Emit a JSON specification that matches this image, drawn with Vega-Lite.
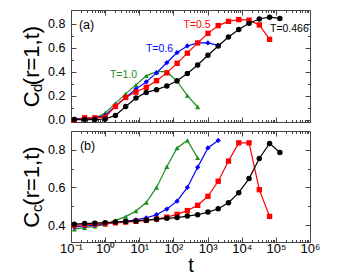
{
  "$schema": "https://vega.github.io/schema/vega-lite/v6.json",
  "padding": {"left": 20, "top": 9, "right": 5, "bottom": 2},
  "spacing": 3,
  "config": {
    "font": "Liberation Sans",
    "view": {"stroke": "#444", "strokeWidth": 1},
    "axis": {"domain": false, "grid": false, "tickColor": "#444", "labelFontSize": 12.5, "labelColor": "#000", "titleFontWeight": "normal", "titleColor": "#000", "labelFlush": false, "labelOverlap": false, "labelBound": false}
  },
  "datasets": {
    "cd": [
      {"T":"1.0","t":0.125,"v":0.005},{"T":"1.0","t":0.25,"v":0.01},{"T":"1.0","t":0.5,"v":0.01},{"T":"1.0","t":1,"v":0.055},{"T":"1.0","t":2,"v":0.135},{"T":"1.0","t":4,"v":0.215},{"T":"1.0","t":8,"v":0.29},{"T":"1.0","t":16,"v":0.365},{"T":"1.0","t":32,"v":0.4},{"T":"1.0","t":64,"v":0.4},{"T":"1.0","t":128,"v":0.32},{"T":"1.0","t":256,"v":0.2},{"T":"1.0","t":512,"v":0.105},
      {"T":"0.6","t":0.125,"v":0.005},{"T":"0.6","t":0.25,"v":0.012},{"T":"0.6","t":0.5,"v":0.012},{"T":"0.6","t":1,"v":0.035},{"T":"0.6","t":2,"v":0.115},{"T":"0.6","t":4,"v":0.185},{"T":"0.6","t":8,"v":0.255},{"T":"0.6","t":16,"v":0.315},{"T":"0.6","t":32,"v":0.39},{"T":"0.6","t":64,"v":0.475},{"T":"0.6","t":128,"v":0.56},{"T":"0.6","t":256,"v":0.615},{"T":"0.6","t":512,"v":0.64},{"T":"0.6","t":1024,"v":0.64},{"T":"0.6","t":2048,"v":0.62},
      {"T":"0.5","t":0.125,"v":-0.005},{"T":"0.5","t":0.25,"v":0.015},{"T":"0.5","t":0.5,"v":0.015},{"T":"0.5","t":1,"v":0.02},{"T":"0.5","t":2,"v":0.11},{"T":"0.5","t":4,"v":0.185},{"T":"0.5","t":8,"v":0.23},{"T":"0.5","t":16,"v":0.27},{"T":"0.5","t":32,"v":0.325},{"T":"0.5","t":64,"v":0.39},{"T":"0.5","t":128,"v":0.47},{"T":"0.5","t":256,"v":0.555},{"T":"0.5","t":512,"v":0.64},{"T":"0.5","t":1024,"v":0.72},{"T":"0.5","t":2048,"v":0.785},{"T":"0.5","t":4096,"v":0.82},{"T":"0.5","t":8192,"v":0.835},{"T":"0.5","t":16384,"v":0.83},{"T":"0.5","t":32768,"v":0.79},{"T":"0.5","t":65536,"v":0.67},
      {"T":"0.466","t":0.125,"v":0.0},{"T":"0.466","t":0.25,"v":0.0},{"T":"0.466","t":0.5,"v":0.0},{"T":"0.466","t":1,"v":0.005},{"T":"0.466","t":2,"v":0.035},{"T":"0.466","t":4,"v":0.11},{"T":"0.466","t":8,"v":0.18},{"T":"0.466","t":16,"v":0.227},{"T":"0.466","t":32,"v":0.25},{"T":"0.466","t":64,"v":0.28},{"T":"0.466","t":128,"v":0.324},{"T":"0.466","t":256,"v":0.385},{"T":"0.466","t":512,"v":0.456},{"T":"0.466","t":1024,"v":0.537},{"T":"0.466","t":2048,"v":0.614},{"T":"0.466","t":4096,"v":0.69},{"T":"0.466","t":8192,"v":0.753},{"T":"0.466","t":16384,"v":0.805},{"T":"0.466","t":32768,"v":0.84},{"T":"0.466","t":65536,"v":0.855},{"T":"0.466","t":131072,"v":0.845}
    ],
    "cc": [
      {"T":"1.0","t":0.125,"v":0.378},{"T":"1.0","t":0.25,"v":0.386},{"T":"1.0","t":0.5,"v":0.393},{"T":"1.0","t":1,"v":0.403},{"T":"1.0","t":2,"v":0.425},{"T":"1.0","t":4,"v":0.445},{"T":"1.0","t":8,"v":0.475},{"T":"1.0","t":16,"v":0.52},{"T":"1.0","t":32,"v":0.6},{"T":"1.0","t":64,"v":0.71},{"T":"1.0","t":128,"v":0.81},{"T":"1.0","t":256,"v":0.85},{"T":"1.0","t":512,"v":0.757},
      {"T":"0.6","t":0.125,"v":0.39},{"T":"0.6","t":0.25,"v":0.395},{"T":"0.6","t":0.5,"v":0.4},{"T":"0.6","t":1,"v":0.405},{"T":"0.6","t":2,"v":0.413},{"T":"0.6","t":4,"v":0.42},{"T":"0.6","t":8,"v":0.428},{"T":"0.6","t":16,"v":0.438},{"T":"0.6","t":32,"v":0.455},{"T":"0.6","t":64,"v":0.485},{"T":"0.6","t":128,"v":0.527},{"T":"0.6","t":256,"v":0.6},{"T":"0.6","t":512,"v":0.707},{"T":"0.6","t":1024,"v":0.81},{"T":"0.6","t":2048,"v":0.85},
      {"T":"0.5","t":0.125,"v":0.398},{"T":"0.5","t":0.25,"v":0.402},{"T":"0.5","t":0.5,"v":0.405},{"T":"0.5","t":1,"v":0.408},{"T":"0.5","t":2,"v":0.412},{"T":"0.5","t":4,"v":0.416},{"T":"0.5","t":8,"v":0.42},{"T":"0.5","t":16,"v":0.425},{"T":"0.5","t":32,"v":0.432},{"T":"0.5","t":64,"v":0.442},{"T":"0.5","t":128,"v":0.457},{"T":"0.5","t":256,"v":0.477},{"T":"0.5","t":512,"v":0.505},{"T":"0.5","t":1024,"v":0.553},{"T":"0.5","t":2048,"v":0.633},{"T":"0.5","t":4096,"v":0.74},{"T":"0.5","t":8192,"v":0.837},{"T":"0.5","t":16384,"v":0.837},{"T":"0.5","t":32768,"v":0.588},{"T":"0.5","t":65536,"v":0.446},
      {"T":"0.466","t":0.125,"v":0.405},{"T":"0.466","t":0.25,"v":0.408},{"T":"0.466","t":0.5,"v":0.41},{"T":"0.466","t":1,"v":0.413},{"T":"0.466","t":2,"v":0.416},{"T":"0.466","t":4,"v":0.419},{"T":"0.466","t":8,"v":0.422},{"T":"0.466","t":16,"v":0.426},{"T":"0.466","t":32,"v":0.432},{"T":"0.466","t":64,"v":0.436},{"T":"0.466","t":128,"v":0.44},{"T":"0.466","t":256,"v":0.448},{"T":"0.466","t":512,"v":0.455},{"T":"0.466","t":1024,"v":0.469},{"T":"0.466","t":2048,"v":0.487},{"T":"0.466","t":4096,"v":0.519},{"T":"0.466","t":8192,"v":0.572},{"T":"0.466","t":16384,"v":0.647},{"T":"0.466","t":32768,"v":0.754},{"T":"0.466","t":65536,"v":0.834},{"T":"0.466","t":131072,"v":0.786}
    ]
  },
  "vconcat": [
    {
      "width": 239,
      "height": 112,
      "resolve": {"axis": {"x": "independent", "y": "independent"}},
      "layer": [
        {
          "data": {"name": "cd"},
          "mark": {"type": "line", "strokeWidth": 1.2},
          "encoding": {
            "x": {"field": "t", "type": "quantitative", "scale": {"type": "log", "domain": [0.1, 1000000]},
                  "axis": {"orient": "bottom", "values": [0.1,1,10,100,1000,10000,100000,1000000], "labels": false, "title": null, "tickSize": -5}},
            "y": {"field": "v", "type": "quantitative", "scale": {"domain": [-0.02, 0.915], "nice": false, "zero": false},
                  "axis": {"orient": "left", "values": [0,0.2,0.4,0.6,0.8], "format": ".1f", "tickSize": -5, "labelPadding": 11, "title": "C  (r=1,t)", "titleFontSize": 22, "titlePadding": 4}},
            "color": {"field": "T", "type": "nominal", "scale": {"domain": ["0.466","0.5","0.6","1.0"], "range": ["#000000","#ff0000","#0000ff","#1e8c1e"]}, "legend": null}
          }
        },
        {
          "data": {"name": "cd"},
          "mark": {"type": "point", "filled": true, "opacity": 1},
          "encoding": {
            "x": {"field": "t", "type": "quantitative", "scale": {"type": "log", "domain": [0.1, 1000000]},
                  "axis": {"orient": "bottom", "values": [0.2,0.3,0.4,0.5,0.6,0.7,0.8,0.9,2,3,4,5,6,7,8,9,20,30,40,50,60,70,80,90,200,300,400,500,600,700,800,900,2000,3000,4000,5000,6000,7000,8000,9000,20000,30000,40000,50000,60000,70000,80000,90000,200000,300000,400000,500000,600000,700000,800000,900000], "labels": false, "title": null, "tickSize": -2.5}},
            "y": {"field": "v", "type": "quantitative", "scale": {"domain": [-0.02, 0.915], "nice": false, "zero": false},
                  "axis": {"orient": "left", "values": [0.1,0.3,0.5,0.7], "labels": false, "title": null, "tickSize": -2.5}},
            "color": {"field": "T", "type": "nominal", "scale": {"domain": ["0.466","0.5","0.6","1.0"], "range": ["#000000","#ff0000","#0000ff","#1e8c1e"]}, "legend": null},
            "shape": {"field": "T", "type": "nominal", "scale": {"domain": ["0.466","0.5","0.6","1.0"], "range": ["circle","square","diamond","triangle-up"]}, "legend": null},
            "size": {"field": "T", "type": "nominal", "scale": {"domain": ["0.466","0.5","0.6","1.0"], "range": [30, 26, 24, 30]}, "legend": null}
          }
        },
        {
          "data": {"values": [
            {"T":"1.0","label":"T=1.0","t":1.38,"v":0.373},
            {"T":"0.6","label":"T=0.6","t":15.6,"v":0.59},
            {"T":"0.5","label":"T=0.5","t":197,"v":0.79},
            {"T":"0.466","label":"T=0.466","t":67200,"v":0.758}
          ]},
          "mark": {"type": "text", "align": "left", "baseline": "middle", "fontSize": 10.5},
          "encoding": {
            "x": {"field": "t", "type": "quantitative", "scale": {"type": "log", "domain": [0.1, 1000000]}, "axis": null},
            "y": {"field": "v", "type": "quantitative", "scale": {"domain": [-0.02, 0.915], "nice": false, "zero": false}, "axis": null},
            "text": {"field": "label"},
            "color": {"field": "T", "type": "nominal", "scale": {"domain": ["0.466","0.5","0.6","1.0"], "range": ["#000000","#ff0000","#0000ff","#1e8c1e"]}, "legend": null}
          }
        },
        {
          "data": {"values": [{"label":"(a)","t":0.171,"v":0.79}]},
          "mark": {"type": "text", "align": "left", "baseline": "middle", "fontSize": 12.5, "color": "#000"},
          "encoding": {
            "x": {"field": "t", "type": "quantitative", "scale": {"type": "log", "domain": [0.1, 1000000]}, "axis": null},
            "y": {"field": "v", "type": "quantitative", "scale": {"domain": [-0.02, 0.915], "nice": false, "zero": false}, "axis": null},
            "text": {"field": "label"}
          }
        },
        {
          "data": {"values": [{"label":"d","t":0.0137,"v":0.266}]},
          "mark": {"type": "text", "align": "center", "baseline": "alphabetic", "angle": 270, "fontSize": 15, "color": "#000"},
          "encoding": {
            "x": {"field": "t", "type": "quantitative", "scale": {"type": "log", "domain": [0.1, 1000000]}, "axis": null},
            "y": {"field": "v", "type": "quantitative", "scale": {"domain": [-0.02, 0.915], "nice": false, "zero": false}, "axis": null},
            "text": {"field": "label"}
          }
        },
        {
          "data": {"name": "cd"},
          "mark": {"type": "point", "opacity": 0},
          "encoding": {
            "x": {"field": "t", "type": "quantitative", "scale": {"type": "log", "domain": [0.1, 1000000]},
                  "axis": {"orient": "top", "values": [0.1,1,10,100,1000,10000,100000,1000000], "labels": false, "title": null, "tickSize": -5}},
            "y": {"field": "v", "type": "quantitative", "scale": {"domain": [-0.02, 0.915], "nice": false, "zero": false},
                  "axis": {"orient": "right", "values": [0,0.2,0.4,0.6,0.8], "labels": false, "title": null, "tickSize": -5}}
          }
        },
        {
          "data": {"name": "cd"},
          "mark": {"type": "point", "opacity": 0},
          "encoding": {
            "x": {"field": "t", "type": "quantitative", "scale": {"type": "log", "domain": [0.1, 1000000]},
                  "axis": {"orient": "top", "values": [0.2,0.3,0.4,0.5,0.6,0.7,0.8,0.9,2,3,4,5,6,7,8,9,20,30,40,50,60,70,80,90,200,300,400,500,600,700,800,900,2000,3000,4000,5000,6000,7000,8000,9000,20000,30000,40000,50000,60000,70000,80000,90000,200000,300000,400000,500000,600000,700000,800000,900000], "labels": false, "title": null, "tickSize": -2.5}},
            "y": {"field": "v", "type": "quantitative", "scale": {"domain": [-0.02, 0.915], "nice": false, "zero": false},
                  "axis": {"orient": "right", "values": [0.1,0.3,0.5,0.7], "labels": false, "title": null, "tickSize": -2.5}}
          }
        }
      ]
    },
    {
      "width": 239,
      "height": 111,
      "resolve": {"axis": {"x": "independent", "y": "independent"}},
      "layer": [
        {
          "data": {"name": "cc"},
          "mark": {"type": "line", "strokeWidth": 1.2},
          "encoding": {
            "x": {"field": "t", "type": "quantitative", "scale": {"type": "log", "domain": [0.1, 1000000]},
                  "axis": {"orient": "bottom", "values": [0.1,1,10,100,1000,10000,100000,1000000], "tickSize": -5, "labelPadding": 5, "labelFontSize": 13,
                           "labelExpr": "datum.value == 0.1 ? '10⁻¹' : datum.value == 1 ? '10⁰' : datum.value == 10 ? '10¹' : datum.value == 100 ? '10²' : datum.value == 1000 ? '10³' : datum.value == 10000 ? '10⁴' : datum.value == 100000 ? '10⁵' : '10⁶'",
                           "title": "t", "titleFontSize": 20, "titlePadding": 0}},
            "y": {"field": "v", "type": "quantitative", "scale": {"domain": [0.31, 0.9], "nice": false, "zero": false},
                  "axis": {"orient": "left", "values": [0.4,0.6,0.8], "format": ".1f", "tickSize": -5, "labelPadding": 11, "title": "C  (r=1,t)", "titleFontSize": 22, "titlePadding": 4}},
            "color": {"field": "T", "type": "nominal", "scale": {"domain": ["0.466","0.5","0.6","1.0"], "range": ["#000000","#ff0000","#0000ff","#1e8c1e"]}, "legend": null}
          }
        },
        {
          "data": {"name": "cc"},
          "mark": {"type": "point", "filled": true, "opacity": 1},
          "encoding": {
            "x": {"field": "t", "type": "quantitative", "scale": {"type": "log", "domain": [0.1, 1000000]},
                  "axis": {"orient": "bottom", "values": [0.2,0.3,0.4,0.5,0.6,0.7,0.8,0.9,2,3,4,5,6,7,8,9,20,30,40,50,60,70,80,90,200,300,400,500,600,700,800,900,2000,3000,4000,5000,6000,7000,8000,9000,20000,30000,40000,50000,60000,70000,80000,90000,200000,300000,400000,500000,600000,700000,800000,900000], "labels": false, "title": null, "tickSize": -2.5}},
            "y": {"field": "v", "type": "quantitative", "scale": {"domain": [0.31, 0.9], "nice": false, "zero": false},
                  "axis": {"orient": "left", "values": [0.5,0.7], "labels": false, "title": null, "tickSize": -2.5}},
            "color": {"field": "T", "type": "nominal", "scale": {"domain": ["0.466","0.5","0.6","1.0"], "range": ["#000000","#ff0000","#0000ff","#1e8c1e"]}, "legend": null},
            "shape": {"field": "T", "type": "nominal", "scale": {"domain": ["0.466","0.5","0.6","1.0"], "range": ["circle","square","diamond","triangle-up"]}, "legend": null},
            "size": {"field": "T", "type": "nominal", "scale": {"domain": ["0.466","0.5","0.6","1.0"], "range": [30, 26, 24, 30]}, "legend": null}
          }
        },
        {
          "data": {"values": [{"label":"(b)","t":0.183,"v":0.818}]},
          "mark": {"type": "text", "align": "left", "baseline": "middle", "fontSize": 12.5, "color": "#000"},
          "encoding": {
            "x": {"field": "t", "type": "quantitative", "scale": {"type": "log", "domain": [0.1, 1000000]}, "axis": null},
            "y": {"field": "v", "type": "quantitative", "scale": {"domain": [0.31, 0.9], "nice": false, "zero": false}, "axis": null},
            "text": {"field": "label"}
          }
        },
        {
          "data": {"values": [{"label":"c","t":0.0137,"v":0.49}]},
          "mark": {"type": "text", "align": "center", "baseline": "alphabetic", "angle": 270, "fontSize": 15, "color": "#000"},
          "encoding": {
            "x": {"field": "t", "type": "quantitative", "scale": {"type": "log", "domain": [0.1, 1000000]}, "axis": null},
            "y": {"field": "v", "type": "quantitative", "scale": {"domain": [0.31, 0.9], "nice": false, "zero": false}, "axis": null},
            "text": {"field": "label"}
          }
        },
        {
          "data": {"name": "cc"},
          "mark": {"type": "point", "opacity": 0},
          "encoding": {
            "x": {"field": "t", "type": "quantitative", "scale": {"type": "log", "domain": [0.1, 1000000]},
                  "axis": {"orient": "top", "values": [0.1,1,10,100,1000,10000,100000,1000000], "labels": false, "title": null, "tickSize": -5}},
            "y": {"field": "v", "type": "quantitative", "scale": {"domain": [0.31, 0.9], "nice": false, "zero": false},
                  "axis": {"orient": "right", "values": [0.4,0.6,0.8], "labels": false, "title": null, "tickSize": -5}}
          }
        },
        {
          "data": {"name": "cc"},
          "mark": {"type": "point", "opacity": 0},
          "encoding": {
            "x": {"field": "t", "type": "quantitative", "scale": {"type": "log", "domain": [0.1, 1000000]},
                  "axis": {"orient": "top", "values": [0.2,0.3,0.4,0.5,0.6,0.7,0.8,0.9,2,3,4,5,6,7,8,9,20,30,40,50,60,70,80,90,200,300,400,500,600,700,800,900,2000,3000,4000,5000,6000,7000,8000,9000,20000,30000,40000,50000,60000,70000,80000,90000,200000,300000,400000,500000,600000,700000,800000,900000], "labels": false, "title": null, "tickSize": -2.5}},
            "y": {"field": "v", "type": "quantitative", "scale": {"domain": [0.31, 0.9], "nice": false, "zero": false},
                  "axis": {"orient": "right", "values": [0.5,0.7], "labels": false, "title": null, "tickSize": -2.5}}
          }
        }
      ]
    }
  ]
}
